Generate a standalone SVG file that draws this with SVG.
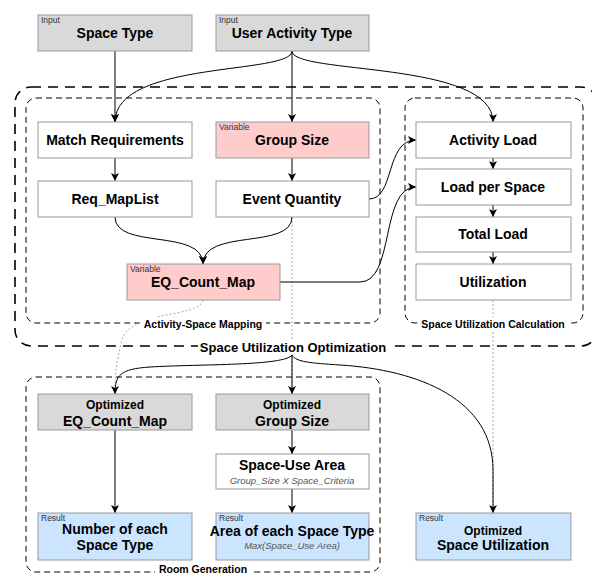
<svg xmlns="http://www.w3.org/2000/svg" width="592" height="574" viewBox="0 0 592 574">
<style>
text{font-family:"Liberation Sans",Arial,sans-serif;}
.t{font-size:14px;font-weight:bold;text-anchor:middle;fill:#000;}
.o{font-size:12px;font-weight:bold;text-anchor:middle;fill:#000;}
.s{font-size:8.5px;fill:#333;}
.i{font-size:9.5px;font-style:italic;text-anchor:middle;fill:#555;}
.lab{font-size:10.5px;font-weight:bold;text-anchor:middle;fill:#000;}
.big{font-size:13px;font-weight:bold;text-anchor:middle;fill:#000;}
.n{stroke:#999;stroke-width:1;}
.gray{fill:#d9d9d9;}
.white{fill:#fff;}
.pink{fill:#ffcccc;}
.blue{fill:#cce5ff;}
.e{fill:none;stroke:#000;stroke-width:1;marker-end:url(#a);}
.d{fill:none;stroke:#aaa;stroke-width:1;stroke-dasharray:2 2;}
.c1{fill:none;stroke:#000;stroke-width:1.6;stroke-dasharray:10 7;}
.c2{fill:none;stroke:#000;stroke-width:1;stroke-dasharray:6 4;}
</style>
<defs>
<marker id="a" markerUnits="userSpaceOnUse" markerWidth="10" markerHeight="10" refX="8" refY="4" orient="auto">
<path d="M0,0 L8,4 L0,8 L2,4 z" fill="#000"/>
</marker>
</defs>
<rect width="592" height="574" fill="#fff"/>

<g id="containers">
<rect id="c-opt" class="c1" x="15" y="87" width="582" height="259" rx="16"/>
<rect id="c-asm" class="c2" x="26" y="98" width="354" height="225" rx="10"/>
<rect id="c-suc" class="c2" x="405" y="98" width="178" height="225" rx="10"/>
<rect id="c-room" class="c2" x="26" y="377" width="354" height="195" rx="10"/>
</g>

<g id="connectors">
<path class="d" d="M203 300 C200 318 130 310 122 340 C117 360 115 370 115 390"/>
<path class="d" d="M292 217 L292 394"/>
<path class="d" d="M493 300 L493 513"/>
<path class="e" d="M115 51 L115 122"/>
<path class="e" d="M292 51 C292 75 115 60 115 122"/>
<path class="e" d="M292 51 L292 122"/>
<path class="e" d="M292 51 C292 75 493 60 493 122"/>
<path class="e" d="M115 158 L115 181"/>
<path class="e" d="M292 158 L292 181"/>
<path class="e" d="M115 217 C115 250 203 228 203 264"/>
<path class="e" d="M292 217 C292 250 203 228 203 264"/>
<path class="e" d="M369 199 C395 199 385 140 416 140"/>
<path class="e" d="M280 282 L360 282 C395 282 380 187 416 187"/>
<path class="e" d="M493 158 L493 169"/>
<path class="e" d="M493 205 L493 217"/>
<path class="e" d="M493 252 L493 264"/>
<path class="e" d="M292 355 C285 366 200 364 150 367 C120 369 115 375 115 394"/>
<path class="e" d="M292 355 L292 394"/>
<path class="e" d="M292 355 C296 362 310 363 340 365 C420 370 493 400 493 470 L493 513"/>
<path class="e" d="M292 430 L292 454"/>
<path class="e" d="M292 489 L292 513"/>
<path class="e" d="M115 430 L115 513"/>
</g>

<g id="container-labels">
<rect x="198" y="339" width="190" height="15" fill="#fff"/>
<text class="big" x="293" y="352">Space Utilization Optimization</text>
<rect x="140" y="317" width="126" height="13" fill="#fff"/>
<text class="lab" x="203" y="328">Activity-Space Mapping</text>
<rect x="418" y="317" width="150" height="13" fill="#fff"/>
<text class="lab" x="493" y="328">Space Utilization Calculation</text>
<rect x="155" y="565" width="96" height="9" fill="#fff"/>
<text class="lab" x="203" y="573">Room Generation</text>
</g>

<g id="n-space-type">
<rect class="n gray" x="38" y="15" width="154" height="36"/>
<text class="s" x="41" y="23">Input</text>
<text class="t" x="115" y="38">Space Type</text>
</g>
<g id="n-user-activity">
<rect class="n gray" x="216" y="15" width="153" height="36"/>
<text class="s" x="219" y="23">Input</text>
<text class="t" x="292" y="38">User Activity Type</text>
</g>

<g id="n-match">
<rect class="n white" x="38" y="122" width="154" height="36"/>
<text class="t" x="115" y="145">Match Requirements</text>
</g>
<g id="n-group-size">
<rect class="n pink" x="216" y="122" width="153" height="36"/>
<text class="s" x="219" y="130">Variable</text>
<text class="t" x="292" y="145">Group Size</text>
</g>
<g id="n-req-maplist">
<rect class="n white" x="38" y="181" width="154" height="36"/>
<text class="t" x="115" y="204">Req_MapList</text>
</g>
<g id="n-event-qty">
<rect class="n white" x="216" y="181" width="153" height="36"/>
<text class="t" x="292" y="204">Event Quantity</text>
</g>
<g id="n-eq-count">
<rect class="n pink" x="127" y="264" width="153" height="36"/>
<text class="s" x="130" y="272">Variable</text>
<text class="t" x="203" y="287">EQ_Count_Map</text>
</g>

<g id="n-activity-load">
<rect class="n white" x="416" y="122" width="155" height="36"/>
<text class="t" x="493" y="145">Activity Load</text>
</g>
<g id="n-load-per-space">
<rect class="n white" x="416" y="169" width="155" height="36"/>
<text class="t" x="493" y="192">Load per Space</text>
</g>
<g id="n-total-load">
<rect class="n white" x="416" y="217" width="155" height="35"/>
<text class="t" x="493" y="239">Total Load</text>
</g>
<g id="n-utilization">
<rect class="n white" x="416" y="264" width="155" height="36"/>
<text class="t" x="493" y="287">Utilization</text>
</g>

<g id="n-opt-eq">
<rect class="n gray" x="38" y="394" width="154" height="36"/>
<text class="o" x="115" y="409">Optimized</text>
<text class="t" x="115" y="426">EQ_Count_Map</text>
</g>
<g id="n-opt-group">
<rect class="n gray" x="216" y="394" width="153" height="36"/>
<text class="o" x="292" y="409">Optimized</text>
<text class="t" x="292" y="426">Group Size</text>
</g>
<g id="n-space-use">
<rect class="n white" x="216" y="454" width="153" height="35"/>
<text class="t" x="292" y="470">Space-Use Area</text>
<text class="i" x="292" y="484">Group_Size X Space_Criteria</text>
</g>
<g id="n-number">
<rect class="n blue" x="38" y="513" width="154" height="47"/>
<text class="s" x="41" y="521">Result</text>
<text class="t" x="115" y="534">Number of each</text>
<text class="t" x="115" y="550">Space Type</text>
</g>
<g id="n-area">
<rect class="n blue" x="216" y="513" width="153" height="47"/>
<text class="s" x="219" y="521">Result</text>
<text class="t" x="292" y="536">Area of each Space Type</text>
<text class="i" x="292" y="549">Max(Space_Use Area)</text>
</g>
<g id="n-opt-util">
<rect class="n blue" x="416" y="513" width="155" height="47"/>
<text class="s" x="419" y="521">Result</text>
<text class="o" x="493" y="535">Optimized</text>
<text class="t" x="493" y="550">Space Utilization</text>
</g>
</svg>
